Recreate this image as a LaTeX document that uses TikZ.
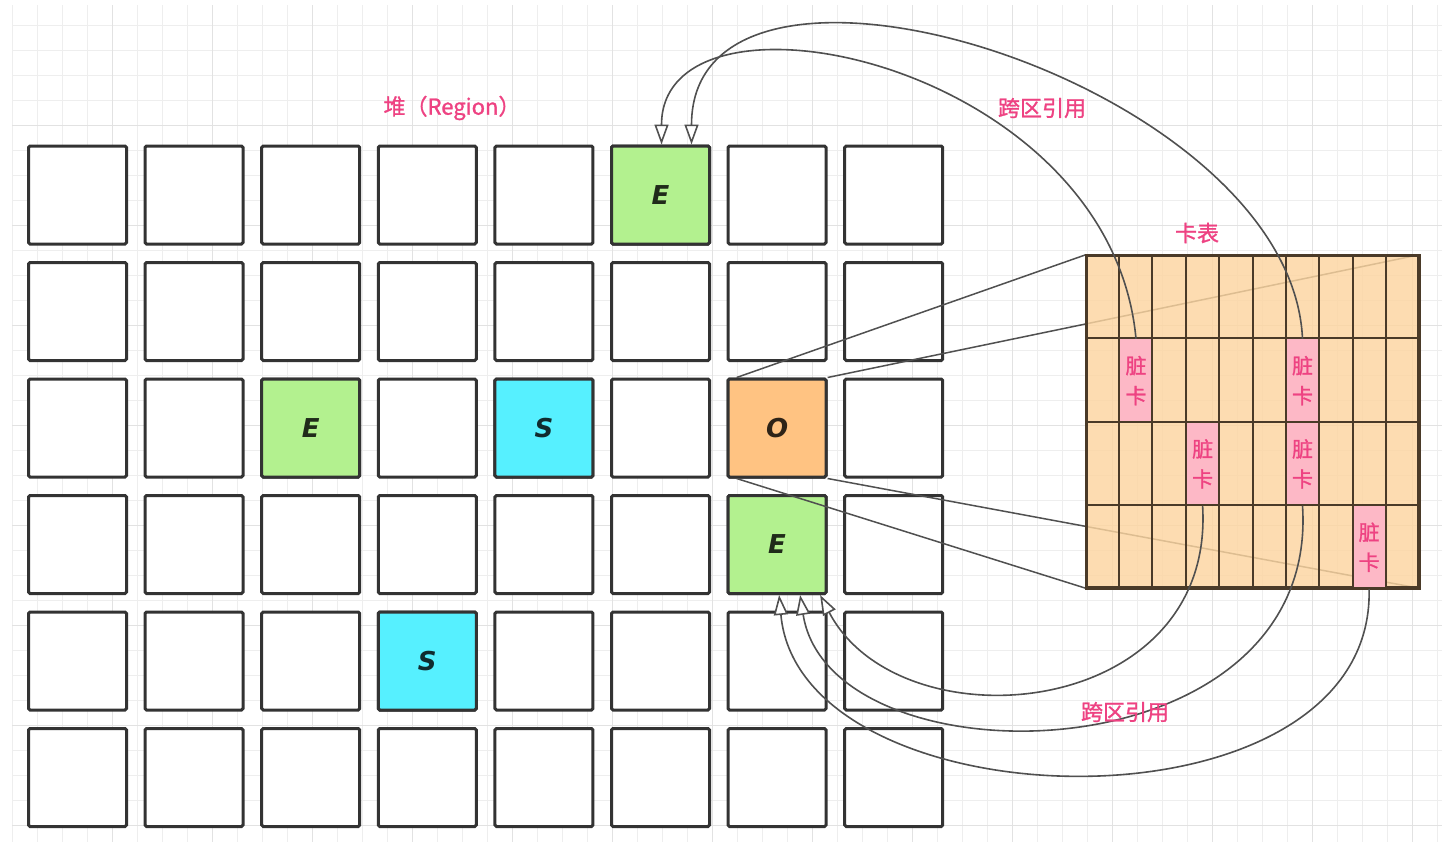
\documentclass[tikz,border=0pt]{standalone}
\usepackage{fontspec}
\usepackage{xcolor}
\usepackage{tikz}
\usetikzlibrary{arrows.meta,calc}
\newfontfamily\cjkfont{Noto Sans CJK SC}[FakeBold=1.2]
\newfontfamily\letterfont{DejaVu Sans}
\definecolor{HPGrid}{HTML}{EEEEEE}
\definecolor{HPGridMajor}{HTML}{E2E2E2}
\definecolor{HPLine}{HTML}{333333}
\definecolor{HPEden}{HTML}{B3F18F}
\definecolor{HPSurv}{HTML}{56F0FF}
\definecolor{HPOld}{HTML}{FFC382}
\definecolor{HPCard}{HTML}{FDD5A0}
\definecolor{HPCardLine}{HTML}{4A3A28}
\definecolor{HPDirty}{HTML}{FDB8C6}
\definecolor{HPPink}{HTML}{EE4282}
\definecolor{HPArrow}{HTML}{505050}
\pgfdeclarelayer{front}
\pgfsetlayers{main,front}

\begin{document}
\begin{tikzpicture}[x=1pt,y=-1pt]
  \tikzset{
    gridline/.style={draw=HPGrid,line width=0.8pt},
    gridmajor/.style={draw=HPGridMajor,line width=0.9pt},
    regionbox/.style={
      draw=HPLine,
      line width=3pt,
      rounded corners=1.5pt,
      fill=white,
      minimum size=98pt,
      inner sep=0pt,
      font=\letterfont\bfseries\itshape\fontsize{26}{26}\selectfont
    },
    edenbox/.style={regionbox,fill=HPEden,text=HPEden!18!black},
    survbox/.style={regionbox,fill=HPSurv,text=HPSurv!18!black},
    oldbox/.style={regionbox,fill=HPOld,text=HPOld!18!black},
    cardtable/.style={
      draw=HPCardLine,
      line width=2.5pt,
      fill=HPCard,
      fill opacity=0.82,
      minimum width=331pt,
      minimum height=331pt,
      inner sep=0pt
    },
    cardline/.style={draw=HPCardLine,line width=2pt},
    dirtycard/.style={
      fill=HPDirty,
      draw=none,
      minimum width=33.3pt,
      minimum height=83.3pt,
      inner sep=0pt,
      align=center,
      text=HPPink,
      font=\cjkfont\fontsize{21}{30}\selectfont
    },
    pinklabel/.style={text=HPPink,font=\cjkfont\fontsize{22}{26}\selectfont},
    projline/.style={draw=HPArrow,line width=1.5pt},
    refarrow/.style={
      draw=HPArrow,
      line width=1.6pt,
      -{Triangle[length=20pt,width=14pt,fill=white]}
    }
  }

  \path[use as bounding box,fill=white] (0,0) rectangle (1456,844);

  % ------------------------------------------------------------------
  % Canvas grid
  % ------------------------------------------------------------------
  \foreach \gx in {12,37,...,1437} \draw[gridline] (\gx,5) -- (\gx,842);
  \foreach \gy in {25,50,...,825} \draw[gridline] (12,\gy) -- (1442,\gy);
  \foreach \gx in {112,212,...,1412} \draw[gridmajor] (\gx,5) -- (\gx,842);
  \foreach \gy in {125,225,...,825} \draw[gridmajor] (12,\gy) -- (1442,\gy);

  % ------------------------------------------------------------------
  % Heap: 6 x 8 regions
  % ------------------------------------------------------------------
  \foreach \r in {0,...,5}
    \foreach \c in {0,...,7}
      \node[regionbox] (r\r c\c) at (77.5+116.6*\c,195+116.5*\r) {};

  \node[edenbox] (edenTop) at (r0c5) {E};
  \node[edenbox] (edenLeft) at (r2c2) {E};
  \node[survbox] (survMid) at (r2c4) {S};
  \node[oldbox] (oldreg) at (r2c6) {O};
  \node[edenbox] (edenLow) at (r3c6) {E};
  \node[survbox] (survLow) at (r4c3) {S};

  \node[pinklabel] (heaplabel) at (452,108) {堆（Region）};

  % ------------------------------------------------------------------
  % Card table of the old region
  % ------------------------------------------------------------------
  \begin{pgfonlayer}{front}
    \node[cardtable] (cardtable) at (1252.5,421.5) {};
    \node[pinklabel] (tablelabel) at (1197,233) {卡表};

    \node[dirtycard] (dirtyA) at (1136.0,380.6) {脏\\卡};
    \node[dirtycard] (dirtyB) at (1302.5,380.6) {脏\\卡};
    \node[dirtycard] (dirtyC) at (1202.6,463.9) {脏\\卡};
    \node[dirtycard] (dirtyD) at (1302.5,463.9) {脏\\卡};
    \node[dirtycard] (dirtyE) at (1369.1,547.2) {脏\\卡};

    \foreach \k in {1,...,9}
      \draw[cardline] ($(cardtable.north west)!\k/10!(cardtable.north east)$)
        -- ($(cardtable.south west)!\k/10!(cardtable.south east)$);
    \foreach \k in {1,2,3}
      \draw[cardline] ($(cardtable.north west)!\k/4!(cardtable.south west)$)
        -- ($(cardtable.north east)!\k/4!(cardtable.south east)$);
    \draw[HPCardLine,line width=2.5pt] (cardtable.north west) rectangle (cardtable.south east);

    % cross-region references
    \draw[refarrow] (dirtyA.north) .. controls +(-26,-278) and +(0,-175)
      .. ([xshift=1pt]edenTop.north);
    \draw[refarrow] (dirtyB.north) .. controls +(-12,-258) and +(0,-245)
      .. ([xshift=31pt]edenTop.north);
    \draw[refarrow] (dirtyC.south) .. controls +(13,215) and +(80,153)
      .. ([xshift=43pt]edenLow.south);
    \draw[refarrow] (dirtyD.south) .. controls +(18,275) and +(30,193)
      .. ([xshift=23pt]edenLow.south);
    \draw[refarrow] (dirtyE.south) .. controls +(6,252) and +(21,233)
      .. ([xshift=2pt]edenLow.south);

    \node[pinklabel] (reflabelTop) at (1042,108) {跨区引用};
    \node[pinklabel] (reflabelLow) at (1125,712) {跨区引用};
  \end{pgfonlayer}

  % projection from the old region onto its card table
  \draw[projline] ([xshift=10pt]oldreg.north west) -- (cardtable.north west);
  \draw[projline] (oldreg.north east) -- (cardtable.north east);
  \draw[projline] ([xshift=10pt]oldreg.south west) -- (cardtable.south west);
  \draw[projline] (oldreg.south east) -- (cardtable.south east);
\end{tikzpicture}
\end{document}
